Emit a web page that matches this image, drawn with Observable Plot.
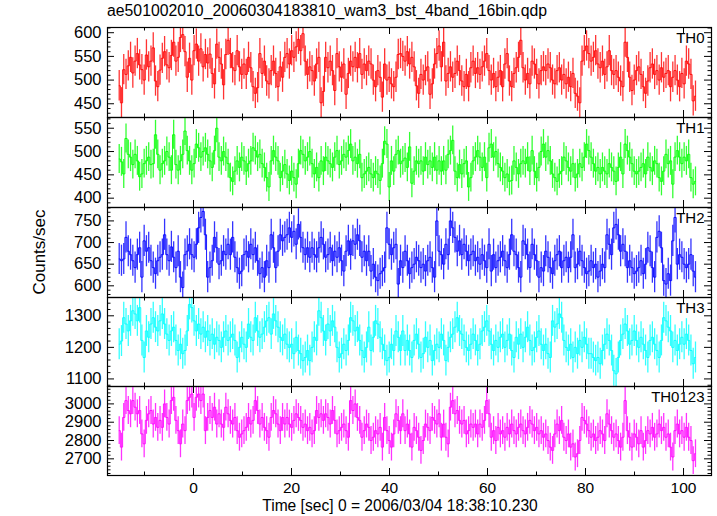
<!DOCTYPE html>
<html><head><meta charset="utf-8">
<script src="https://cdn.jsdelivr.net/npm/d3@7"></script>
<script src="https://cdn.jsdelivr.net/npm/@observablehq/plot@0.6"></script>
<style>
body{margin:0;background:#fff;}
#root{position:relative;width:717px;height:516px;background:#fff;font-family:"Liberation Sans",Arial,Helvetica,sans-serif;color:#000;overflow:hidden;}
.panel{position:absolute;left:0;}
.panel svg{overflow:visible;display:block;}
#title{position:absolute;left:107px;top:2px;font-size:15.8px;white-space:nowrap;}
#xlabel{position:absolute;left:100px;width:600px;text-align:center;top:497px;font-size:15.6px;white-space:nowrap;}
#ylabel{position:absolute;left:40px;top:252px;transform:translate(-50%,-50%) rotate(-90deg);font-size:17px;white-space:nowrap;}
</style></head>
<body><div id="root">
<div id="title">ae501002010_20060304183810_wam3_bst_4band_16bin.qdp</div>
<div id="ylabel">Counts/sec</div>
<div id="xlabel">Time [sec] 0 = 2006/03/04 18:38:10.230</div>
</div>
<script>
// time of first value and spacing (s)
const tStart = -15.16;
const binWidth = 0.463;

const th0 = [
488,452,522,512,530, 548,515,540,556,532, 522,500,553,528,540, 568,498,486,521,546,
560,532,526,552,580, 540,548,590,596,560, 506,546,500,562,576, 540,566,528,554,536,
555,514,492,576,548, 534,490,554,584,556, 526,520,562,528,512, 534,512,548,526,486,
472,484,556,514,540, 498,492,520,540,514, 486,528,506,548,556, 534,562,548,570,586,
562,598,540,512,528, 520,498,534,548,452, 476,548,526,540,520, 478,556,528,506,534,
470,514,540,528,548, 526,556,512,534,520, 540,534,500,486,520, 506,464,534,500,506,
492,486,506,554,556, 550,540,560,
534,548,528,488,472, 512,500,520,528,470, 492,534,556,572,528, 580,498,514,528,506,
514,540,520,498,486, 512,486,526,540,514, 526,512,528,540,556, 520,500,514,486,506,
520,486,534,556,498, 486,514,526,548,584, 526,500,514,492,540, 534,512,492,520,528,
520,534,526,500,492, 520,526,500,512,492, 506,486,514,472,466, 452,540,562,572,556,
540,548,562,534,526, 540,512,528,562,520, 512,520,506,498,486, 580,548,506,478,500,
520,528,512,486,472, 498,526,534,512,520, 500,526,506,514,520, 486,506,520,500,486,
514,492,540,534,512,456,466];

const th1 = [
484,478,452,528,494, 488,472,494,480,446, 452,474,480,488,472, 474,536,494,460,474,
480,500,488,460,536, 472,460,480,494,544, 502,480,460,474,516, 508,488,500,508,494,
480,466,502,550,488, 480,500,488,474,444, 436,458,480,466,488, 480,458,474,480,508,
502,488,494,474,466, 444,424,480,502,488, 480,444,458,472,452, 438,458,444,430,474,
502,494,480,488,500, 474,452,466,444,480, 458,488,480,474,466, 488,502,472,480,494,
488,502,516,480,488, 474,494,444,452,458, 466,452,444,458,452, 438,474,522,516,424,
480,458,494,502,474, 480,486,466,
510,432,458,480,474, 480,458,488,472,480, 466,488,460,480,458, 480,460,494,502,524,
458,444,472,452,474, 480,424,444,480,488, 502,488,466,488,444, 508,516,488,500,474,
466,458,444,452,436, 438,480,466,452,474, 480,474,488,458,502, 458,444,466,500,516,
488,502,480,452,444, 436,452,458,488,480, 466,458,474,444,452, 474,466,488,516,502,
488,474,458,466,452, 466,458,452,474,466, 458,436,466,488,452, 516,502,488,474,458,
452,458,466,474,452, 488,466,458,480,474, 444,436,458,494,474, 480,430,488,502,488,
474,488,480,494,444,430,436];

const th2 = [
662,658,662,712,680, 672,658,642,672,688, 620,704,680,688,658, 642,628,658,666,672,
718,672,658,690,666, 642,680,620,596,672, 680,696,672,666,696, 734,758,772,718,620,
642,658,712,688,650, 658,680,672,696,672, 712,666,642,628,634, 672,680,666,696,672,
688,658,628,642,620, 658,642,718,688,642, 680,718,704,712,718, 734,712,726,696,742,
712,688,672,688,666, 688,672,666,688,712, 696,666,672,688,658, 680,666,688,658,634,
680,704,672,704,696, 718,704,666,680,658, 680,634,650,620,612, 628,634,642,734,696,
672,688,696,604,658, 642,680,658,
628,642,650,666,658, 642,650,634,658,666, 642,620,750,680,672, 650,696,672,750,734,
712,680,704,672,696, 680,658,672,680,658, 666,650,672,658,642, 696,634,672,642,658,
666,680,658,642,672, 718,680,672,642,620, 704,696,672,642,696, 672,658,620,642,634,
680,666,642,628,658, 672,680,642,658,666, 642,666,718,642,650, 680,658,642,628,634,
658,642,650,620,634, 650,642,718,696,672, 734,742,718,680,696, 680,642,658,642,628,
634,642,658,628,650, 688,680,642,620,712, 726,688,612,604,628, 612,704,758,650,672,
666,650,642,650,672,634,620];

const th3 = [
1210,1220,1294,1274,1252, 1284,1316,1306,1284,1326, 1222,1168,1252,1232,1274, 1294,1264,1252,1284,1306,
1274,1242,1222,1252,1264, 1222,1190,1210,1180,1190, 1252,1336,1326,1284,1252, 1274,1242,1264,1232,1252,
1222,1242,1210,1232,1222, 1200,1232,1252,1222,1232, 1242,1222,1168,1200,1232, 1210,1200,1274,1232,1222,
1294,1252,1232,1242,1264, 1284,1294,1242,1306,1284, 1264,1232,1222,1242,1210, 1200,1210,1180,1232,1190,
1180,1158,1168,1190,1158, 1200,1232,1222,1316,1294, 1252,1222,1274,1252,1284, 1264,1200,1168,1180,1210,
1190,1222,1294,1284,1252, 1264,1222,1190,1168,1200, 1264,1190,1232,1284,1274, 1232,1210,1190,1158,1168,
1210,1190,1252,1232,1190, 1252,1190,1222,
1190,1168,1222,1242,1210, 1168,1180,1232,1200,1222, 1158,1190,1210,1200,1242, 1222,1158,1200,1232,1242,
1264,1294,1252,1242,1222, 1200,1190,1210,1242,1222, 1190,1210,1252,1264,1284, 1252,1210,1190,1222,1200,
1232,1242,1200,1222,1242, 1190,1168,1232,1210,1242, 1200,1232,1264,1222,1190, 1200,1232,1252,1210,1190,
1210,1180,1168,1284,1264, 1274,1306,1294,1222,1200, 1190,1210,1168,1200,1180, 1222,1200,1232,1210,1180,
1180,1168,1158,1168,1148, 1190,1210,1242,1222,1190, 1126,1116,1168,1222,1242, 1274,1252,1210,1222,1252,
1222,1200,1232,1210,1190, 1168,1222,1232,1210,1190, 1168,1222,1294,1284,1264, 1252,1200,1222,1190,1210,
1232,1210,1242,1222,1190,1148,1168];

const th0123 = [
2854,2764,2926,3018,2964, 2946,3018,2982,2946,2964, 2836,2782,2910,2946,2964, 2890,2926,2872,2910,2872,
3000,2926,2890,3018,3036, 2910,2854,2782,2890,2854, 3018,3036,3054,2926,3036, 3054,3018,3054,2854,2926,
2964,2926,2982,2890,2946, 2890,2872,2982,2946,2910, 2890,2926,2854,2818,2836, 2854,2872,2926,2890,2910,
3018,2964,2890,2926,2872, 2854,2818,2926,2964,2946, 2890,2854,2926,2890,2926, 2890,2872,2910,2946,2926,
2910,2872,2890,2854,2872, 2836,2854,2964,2926,2946, 2910,2946,2926,2890,2964, 2910,2836,2854,2872,2890,
2854,2818,3018,2964,3000, 2926,2910,2818,2854,2890, 2872,2800,2818,2854,2836, 2872,2764,2926,2854,2800,
2764,2836,2946,2910,2854, 2946,2854,2890,
2836,2764,2872,2854,2818, 2746,2800,2890,2872,2854, 2926,2910,2890,2946,2818, 2890,2818,2782,2982,3018,
2946,2964,2910,2890,2910, 2836,2854,2890,2872,2890, 2836,2890,2872,2910,3018, 2946,2818,2854,2800,2872,
2836,2854,2818,2872,2836, 2890,2854,2836,2872,2890, 2854,2836,2872,2910,2890, 2854,2872,2836,2854,2818,
2836,2800,2764,2746,2836, 2890,2854,2910,2818,2800, 2836,2764,2782,2710,2728, 2800,2926,2910,2890,2854,
2818,2836,2800,2818,2854, 2836,2800,2946,2890,2854, 2818,2836,2800,2764,2818, 3018,2854,2818,2764,2836,
2818,2782,2854,2764,2800, 2854,2836,2872,2818,2836, 2890,2854,2872,2818,2836, 2764,2710,2854,2890,2836,
2854,2818,2872,2818,2800,2690,2728];

// per-panel 1-sigma error (counts/sec)
const errors = [32, 31, 36, 49, 76];
const names = ["TH0", "TH1", "TH2", "TH3", "TH0123"];
const series = [th0, th1, th2, th3, th0123];
const yTicks = [[450,500,550,600],[400,450,500,550],[600,650,700,750],[1100,1200,1300],[2700,2800,2900,3000]];
const xTickLabels = [0, 20, 40, 60, 80, 100];

// layout / style (not data)
const colors = ["#ff0000", "#00ff00", "#0000ff", "#00ffff", "#ff00ff"];
const yDomains = [[421,611],[380,573],[573,781],[1076,1358],[2609,3095]];
const yMinorStep = [10, 10, 10, 20, 20];
const panelTops = [27, 117, 207, 297, 386];
const panelHeights = [90, 90, 90, 89, 89];
const xDomain = [-17.55, 105.71];
const W = 717, ML = 107, MR = 6;
const pxPerSec = (W - ML - MR) / (xDomain[1] - xDomain[0]);

const root = document.getElementById("root");

series.forEach((vals, k) => {
  const data = vals.map((v, i) => ({t: tStart + binWidth * i, v}));
  const err = errors[k];
  const [y0, y1] = yDomains[k];
  const pxPerUnit = panelHeights[k] / (y1 - y0);
  const isBottom = k === series.length - 1;
  const majorY = yTicks[k];
  const minorY = d3.range(Math.ceil(y0 / yMinorStep[k]) * yMinorStep[k], y1, yMinorStep[k]).filter(v => !majorY.includes(v));
  const [xa, xb] = xDomain;
  const majorX = d3.range(-20, xb, 20).filter(v => v >= xa && v <= xb);
  const minorX = d3.range(-10, xb, 20).filter(v => v >= xa && v <= xb);
  const majLen = 7, minLen = 3.5;
  const dxMaj = majLen / pxPerSec, dxMin = minLen / pxPerSec;
  const dyMaj = majLen / pxPerUnit, dyMin = minLen / pxPerUnit;
  const tickStyle = {stroke: "#000", strokeWidth: 1};
  const marks = [
    Plot.ruleX(data, {x: "t", y1: d => d.v - err, y2: d => d.v + err, stroke: colors[k], strokeOpacity: 0.8, strokeWidth: 1.3, clip: true}),
    Plot.line(data, {x: "t", y: "v", curve: "step", stroke: colors[k], strokeWidth: 1, strokeOpacity: 0.9, clip: true}),
    // y ticks left & right
    Plot.ruleY(majorY, {y: d => d, x1: xa, x2: xa + dxMaj, ...tickStyle}),
    Plot.ruleY(majorY, {y: d => d, x1: xb - dxMaj, x2: xb, ...tickStyle}),
    Plot.ruleY(minorY, {y: d => d, x1: xa, x2: xa + dxMin, ...tickStyle}),
    Plot.ruleY(minorY, {y: d => d, x1: xb - dxMin, x2: xb, ...tickStyle}),
    // x ticks top & bottom
    Plot.ruleX(majorX, {x: d => d, y1: y0, y2: y0 + dyMaj, ...tickStyle}),
    Plot.ruleX(majorX, {x: d => d, y1: y1 - dyMaj, y2: y1, ...tickStyle}),
    Plot.ruleX(minorX, {x: d => d, y1: y0, y2: y0 + dyMin, ...tickStyle}),
    Plot.ruleX(minorX, {x: d => d, y1: y1 - dyMin, y2: y1, ...tickStyle}),
    Plot.frame({stroke: "#000", strokeWidth: 1.2}),
    Plot.text(majorY, {x: xa, y: d => d, text: d => String(d), textAnchor: "end", dx: -6, fontSize: 16.5, fill: "#000"}),
    Plot.text([names[k]], {frameAnchor: "top-right", dx: -7, dy: 5, lineAnchor: "top", fontSize: 15, fill: "#000"})
  ];
  if (isBottom) {
    marks.push(Plot.text(xTickLabels, {x: d => d, y: y0, text: d => String(d), dy: 6, lineAnchor: "top", fontSize: 15.5, fill: "#000"}));
  }
  const chart = Plot.plot({
    width: W,
    height: panelHeights[k] + (isBottom ? 26 : 0),
    marginLeft: ML, marginRight: MR, marginTop: 0, marginBottom: isBottom ? 26 : 0,
    style: {fontFamily: "'Liberation Sans', Arial, Helvetica, sans-serif", fontSize: "15px", background: "transparent", overflow: "visible"},
    x: {domain: xDomain, axis: null},
    y: {domain: yDomains[k], axis: null},
    marks
  });
  const div = document.createElement("div");
  div.className = "panel";
  div.style.top = panelTops[k] + "px";
  div.appendChild(chart);
  root.appendChild(div);
});
</script>
</body></html>
